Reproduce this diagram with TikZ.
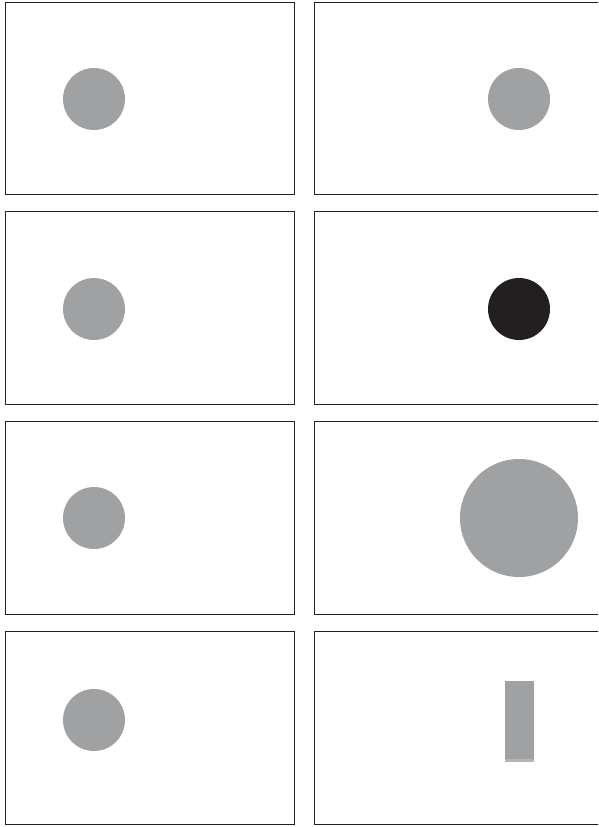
\documentclass[tikz,border=0pt]{standalone}
\begin{document}
\begin{tikzpicture}[x=1pt,y=-1pt,
  panel/.style={draw=framegray,line width=1.3pt},
  dot/.style={fill=dotgray}]
\definecolor{framegray}{HTML}{231F20}
\definecolor{dotgray}{HTML}{A0A1A3}
\definecolor{dotblack}{HTML}{231F20}
\definecolor{stripgray}{HTML}{B4B5B7}
\useasboundingbox (0,0) rectangle (598,827);
\clip (0,0) rectangle (598,827);
% left panels
\foreach \t/\b in {2.5/194.5,211.5/404.5,421.5/614.5,631.5/824.5}{
  \draw[panel] (5.5,\t) rectangle (294.5,\b);
  \draw[panel] (314.5,\t) rectangle (605,\b);
}
% left circles
\foreach \c in {99,309,518,720}{
  \fill[dot] (94,\c) circle (31);
}
% right contents
\fill[dot] (519,99) circle (31);
\fill[dotblack] (519,309) circle (31);
\fill[dot] (519,518) circle (59);
\fill[dot] (505,681) rectangle (534,762);
\fill[stripgray] (505,758.5) rectangle (534,762);
\end{tikzpicture}
\end{document}
